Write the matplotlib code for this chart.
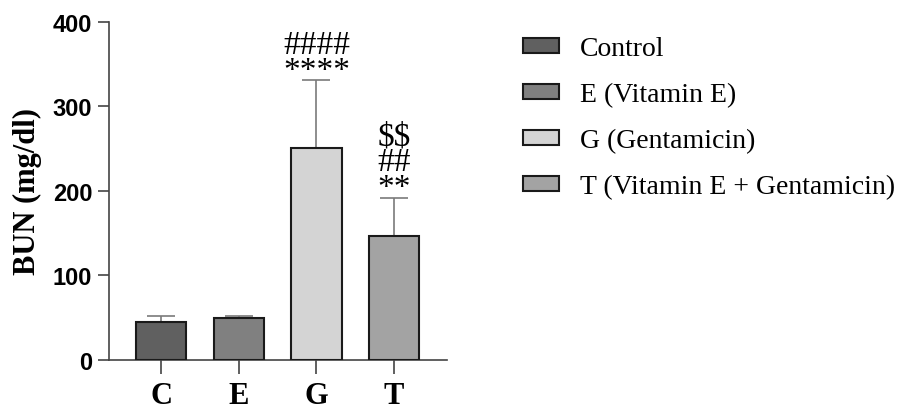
import matplotlib
matplotlib.use("Agg")
import matplotlib.pyplot as plt
import numpy as np

groups = ["C", "E", "G", "T"]
legend_labels = ["Control", "E (Vitamin E)", "G (Gentamicin)", "T (Vitamin E + Gentamicin)"]
means = [44.5, 49.5, 251, 146.5]
sems = [7.0, 2.5, 80, 45.5]
marks = ["", "", "####\n****", "$$\n##\n**"]
colors = ["#606060", "#808080", "#d4d4d4", "#a3a3a3"]

fig = plt.figure(figsize=(8.98, 4.1), dpi=100)
ax = fig.add_axes([0.1214, 0.1195, 0.3764, 0.8251])

x = np.arange(len(groups))
bars = ax.bar(x, means, width=0.65, color=colors, edgecolor="#1a1a1a", linewidth=1.5, zorder=3)
ax.errorbar(x, means, yerr=[np.zeros(len(sems)), sems], fmt="none", ecolor="#7a7a7a",
            elinewidth=1.2, capsize=10, capthick=1.2, zorder=2)

for xi, m, s, t in zip(x, means, sems, marks):
    if t:
        ax.annotate(t, (xi, m + s), xytext=(0, -4), textcoords="offset points",
                    ha="center", va="bottom", multialignment="center",
                    fontsize=24, family="Liberation Serif", linespacing=0.8,
                    parse_math=False)

ax.set_ylim(0, 400)
ax.set_xlim(-0.67, 3.68)
ax.set_yticks([0, 100, 200, 300, 400])
ax.set_xticks(x)
ax.set_xticklabels(groups, fontsize=22, fontweight="bold", family="Liberation Serif")
for lab in ax.get_yticklabels():
    lab.set_fontsize(17)
    lab.set_fontweight("bold")
    lab.set_family("Liberation Sans")
ax.set_ylabel("BUN (mg/dl)", fontsize=22, fontweight="bold", family="Liberation Serif", labelpad=8)

for side in ["top", "right"]:
    ax.spines[side].set_visible(False)
for side in ["left", "bottom"]:
    ax.spines[side].set_color("#444444")
    ax.spines[side].set_linewidth(1.2)
ax.tick_params(axis="y", length=8, width=1.2, color="#444444", pad=4)
ax.tick_params(axis="x", length=10, width=1.2, color="#444444", pad=5)

fig.legend(bars, legend_labels, loc="upper left", bbox_to_anchor=(523 / 898, 1 - 37 / 410),
           frameon=False, prop={"family": "Liberation Serif", "size": 20},
           handlelength=1.3, handleheight=0.45, handletextpad=0.75, labelspacing=0.76,
           borderpad=0, borderaxespad=0)

fig.savefig("out.png", dpi=100)
